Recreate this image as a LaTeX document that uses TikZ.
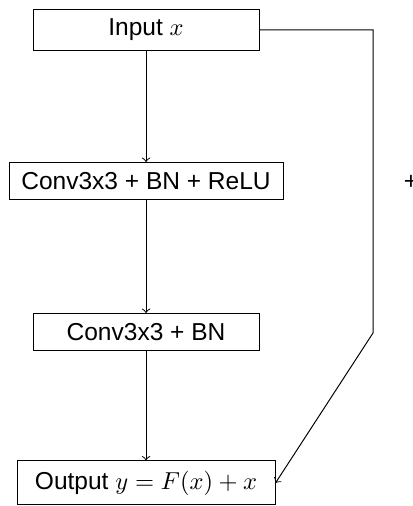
\documentclass[tikz,border=0pt]{standalone}
\usepackage{fontspec}
\setmainfont{Liberation Sans}
\usetikzlibrary{positioning}

\begin{document}
\begin{tikzpicture}[->, auto,
    node distance=2.165cm, align=center]

    \tikzset{
      block/.style = {shape=rectangle,draw,inner sep=4pt},
    }

    \useasboundingbox (0,0) rectangle (5.922,-7.256);

    \node[block, minimum width=3.24cm] (In) at (2.094,-0.430) {Input $x$};
    \node[block, below of=In, minimum width=3.93cm] (C1) {Conv3x3 + BN + ReLU};
    \node[block, below of=C1, minimum width=3.24cm] (C2) {Conv3x3 + BN};
    \node[block, below of=C2, minimum width=3.70cm] (Out) {Output $y = F(x) + x$};
    \node (Plus) at (5.894,-2.610) {+};

    \coordinate (K) at (5.349,-4.775);

    \path[->]
    % Hauptpfad
      (In) edge[] (C1)
      (C1) edge[] (C2)
      (C2) edge[] (Out);
    % Abkuerzung
    \draw (In.east) -| (K) -- (Out.east);

  \end{tikzpicture}
\end{document}
